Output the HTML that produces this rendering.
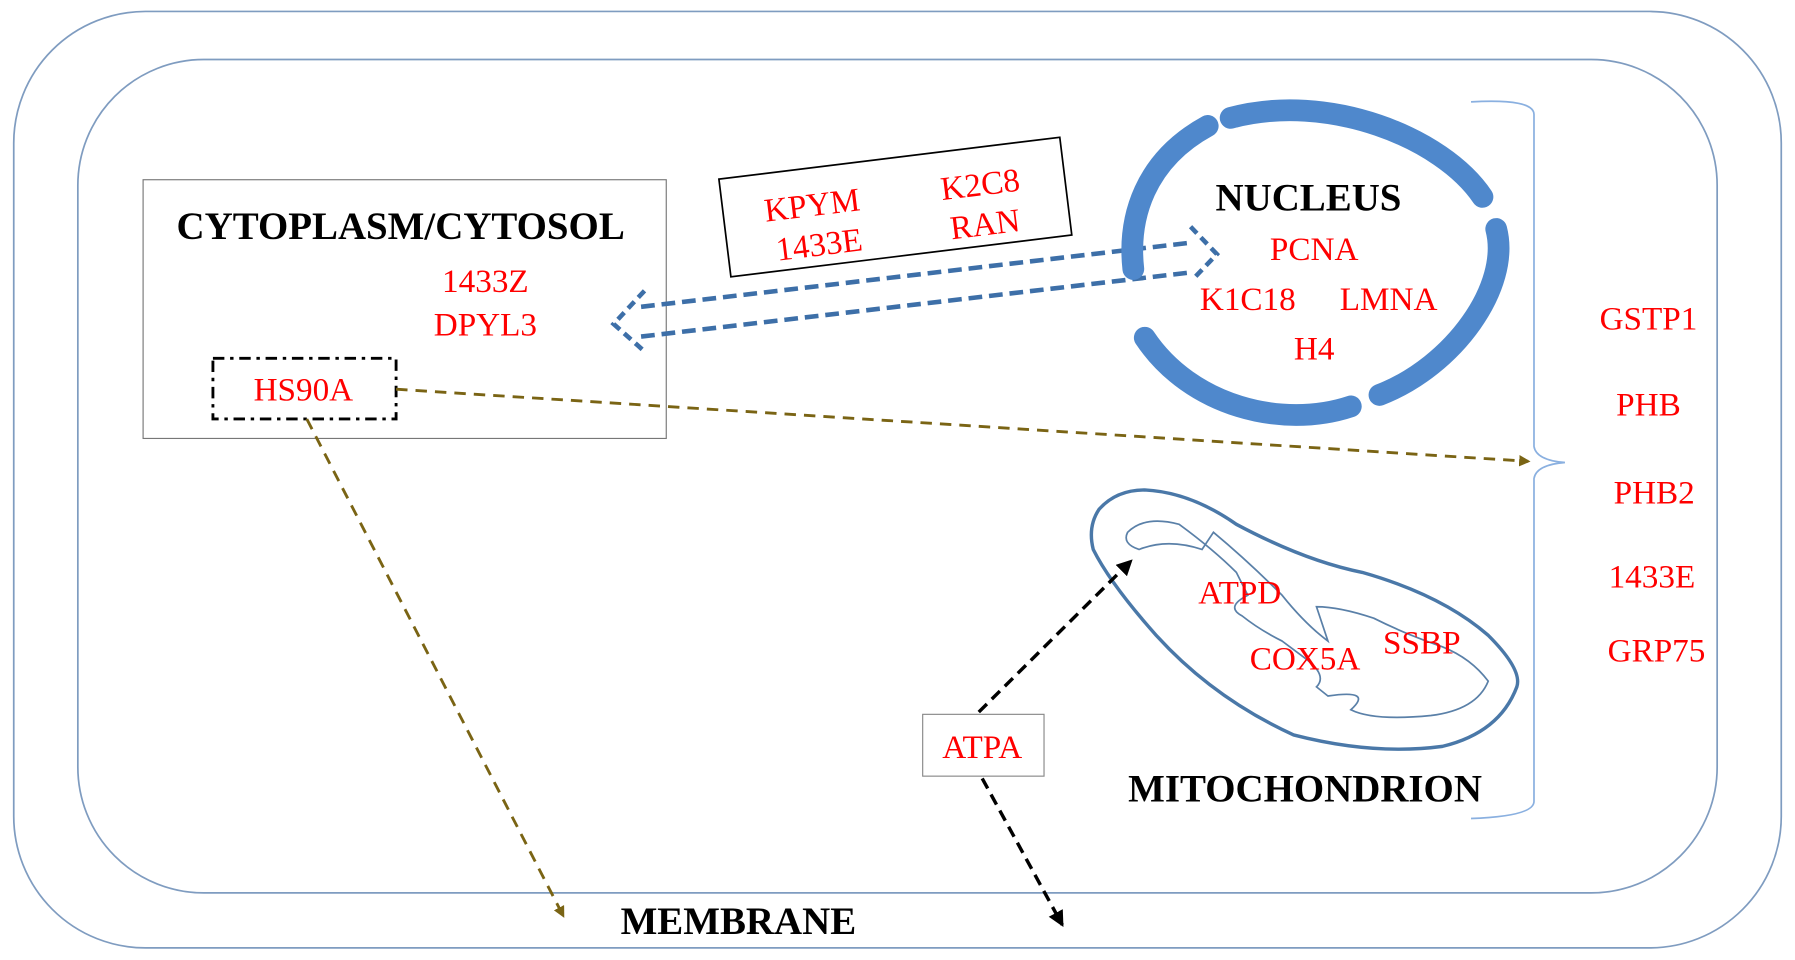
<!DOCTYPE html>
<html><head><meta charset="utf-8"><style>
html,body{margin:0;padding:0;background:#fff;}
svg{display:block;}
text{font-family:"Liberation Serif",serif;}
.r{fill:#f00;font-size:29px;text-anchor:middle;}
.b{fill:#000;font-size:34px;font-weight:bold;text-anchor:middle;}
</style></head><body>
<svg width="1795" height="960" viewBox="0 0 1568 838.6" preserveAspectRatio="none" xmlns="http://www.w3.org/2000/svg">
<defs>
<marker id="ao" markerWidth="10" markerHeight="10" refX="8" refY="5" orient="auto" markerUnits="userSpaceOnUse"><path d="M0,0 L10,5 L0,10 z" fill="#7a6414"/></marker>
<marker id="ak" markerWidth="14" markerHeight="14" refX="12" refY="7" orient="auto" markerUnits="userSpaceOnUse"><path d="M0,0 L14,7 L0,14 z" fill="#000"/></marker>
</defs>
<rect x="12" y="10" width="1544" height="818" rx="115" fill="none" stroke="#7f9cc0" stroke-width="1.5"/>
<rect x="68" y="52" width="1432" height="728" rx="110" fill="none" stroke="#7f9cc0" stroke-width="1.5"/>
<rect x="125" y="157" width="457" height="226" fill="none" stroke="#777" stroke-width="1"/>
<text class="b" x="350" y="209">CYTOPLASM/CYTOSOL</text>
<text class="r" x="424" y="255">1433Z</text>
<text class="r" x="424" y="293">DPYL3</text>
<rect x="186" y="313" width="160" height="53" fill="none" stroke="#000" stroke-width="2.5" stroke-dasharray="10,5,3,5"/>
<text class="r" x="265" y="350">HS90A</text>
<g transform="rotate(-7 781 180)">
<rect x="632" y="138" width="300" height="86" fill="#fff" stroke="#000" stroke-width="1.5"/>
<text class="r" x="710" y="180">KPYM</text>
<text class="r" x="712" y="215">1433E</text>
<text class="r" x="858" y="180">K2C8</text>
<text class="r" x="858" y="215">RAN</text>
</g>
<g fill="none" stroke="#3d6fa8" stroke-width="4" stroke-dasharray="12,6">
<line x1="560" y1="268" x2="1040" y2="212"/>
<line x1="560" y1="294" x2="1040" y2="238"/>
<path d="M563,254 L536,283 L563,307" stroke-dasharray="8,5"/>
<path d="M1040,198 L1063,222 L1042,244" stroke-dasharray="8,5"/>
</g>
<g fill="none" stroke="#4f88cc" stroke-width="19" stroke-linecap="round">
<path d="M1055,110 C1000,140 985,190 990,235"/>
<path d="M1075,103 C1160,80 1260,120 1295,172"/>
<path d="M1307,200 C1320,250 1270,320 1205,345"/>
<path d="M1180,355 C1120,375 1040,355 1000,295"/>
</g>
<text class="b" x="1143" y="184">NUCLEUS</text>
<text class="r" x="1148" y="227">PCNA</text>
<text class="r" x="1090" y="271">K1C18</text>
<text class="r" x="1213" y="271">LMNA</text>
<text class="r" x="1148" y="314">H4</text>
<path d="M1285,89 Q1340,86 1340,100 L1340,390 Q1342,402 1367,404 Q1342,406 1340,418 L1340,700 Q1340,713 1285,715" fill="none" stroke="#8ab0e0" stroke-width="1.5"/>
<text class="r" x="1440" y="288">GSTP1</text>
<text class="r" x="1440" y="363">PHB</text>
<text class="r" x="1445" y="440">PHB2</text>
<text class="r" x="1443" y="513">1433E</text>
<text class="r" x="1447" y="578">GRP75</text>
<line x1="346" y1="340" x2="1335" y2="403" stroke="#7a6414" stroke-width="2.5" stroke-dasharray="10,7" marker-end="url(#ao)"/>
<line x1="268" y1="366" x2="492" y2="800" stroke="#7a6414" stroke-width="2.5" stroke-dasharray="10,7" marker-end="url(#ao)"/>
<path d="M960,445 Q975,428 1000,428 Q1040,430 1080,458 Q1140,490 1190,500 Q1260,520 1300,555 Q1330,585 1325,600 Q1310,640 1260,652 Q1200,660 1130,642 Q1060,610 1010,555 Q970,510 955,480 Q950,460 960,445 z" fill="none" stroke="#4a78a8" stroke-width="3"/>
<path d="M985,465 Q1000,450 1030,458 Q1060,480 1080,500 L1090,520 Q1070,530 1085,538 Q1100,550 1120,560 L1140,575 Q1160,590 1150,600 L1160,608 Q1200,602 1180,620 Q1200,630 1250,625 Q1290,620 1300,595 Q1285,575 1260,565 Q1230,555 1200,540 Q1170,530 1150,530 L1160,560 Q1140,545 1120,520 Q1090,490 1060,465 L1050,480 Q1020,470 995,480 Q980,475 985,465 z" fill="none" stroke="#5a80a8" stroke-width="1.5"/>
<text class="r" x="1083" y="527">ATPD</text>
<text class="r" x="1140" y="585">COX5A</text>
<text class="r" x="1242" y="571">SSBP</text>
<rect x="806" y="624" width="106" height="54" fill="#fff" stroke="#888" stroke-width="1"/>
<text class="r" x="858" y="662">ATPA</text>
<line x1="855" y1="622" x2="988" y2="490" stroke="#000" stroke-width="3" stroke-dasharray="10,6" marker-end="url(#ak)"/>
<line x1="858" y1="680" x2="928" y2="808" stroke="#000" stroke-width="3" stroke-dasharray="10,6" marker-end="url(#ak)"/>
<text class="b" x="1140" y="700">MITOCHONDRION</text>
<text class="b" x="645" y="816">MEMBRANE</text>
</svg>
</body></html>
